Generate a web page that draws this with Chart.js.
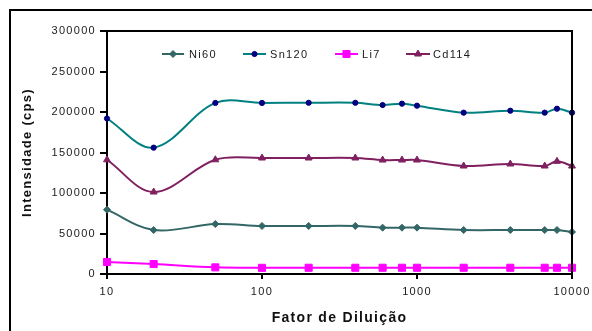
<!DOCTYPE html>
<html>
<head>
<meta charset="utf-8">
<script src="https://cdn.jsdelivr.net/npm/chart.js@4.4.1/dist/chart.umd.min.js"></script>
<style>
  html, body { margin: 0; padding: 0; background: #fff; overflow: hidden; }
  #wrap { position: relative; width: 592px; height: 331px; }
  #frame { position: absolute; left: 9px; top: 9px; width: 700px; height: 500px; border: 2px solid #000; pointer-events: none; }
  canvas { position: absolute; left: 0; top: 0; }
</style>
</head>
<body>
<div id="wrap">
  <div id="frame"></div>
  <canvas id="c" width="592" height="331"></canvas>
</div>
<script>
// ---- data ----
const dilution = [10, 20, 50, 100, 200, 400, 600, 800, 1000, 2000, 4000, 6667, 8000, 10000];
const ni60  = [79400, 54300, 61700, 59300, 59300, 59300, 57200, 57200, 57200, 54300, 54300, 54300, 54300, 51900];
const sn120 = [192000, 156000, 211200, 211200, 211400, 211400, 208600, 210300, 207800, 199200, 201600, 199200, 204100, 199200];
const li7   = [14800, 12300, 8200, 7600, 7700, 7700, 7700, 7700, 7700, 7700, 7700, 7700, 7700, 7700];
const cd114 = [141000, 101200, 141000, 143200, 143200, 143200, 140700, 140700, 140700, 133300, 135800, 133300, 139100, 133300];
const xTicks = [10, 100, 1000, 10000];
const yTicks = [0, 50000, 100000, 150000, 200000, 250000, 300000];
const seriesNames = ['Ni60', 'Sn120', 'Li7', 'Cd114'];

const FONT = 'Liberation Sans, Arial, sans-serif';
const SPACING = '1.3px';

function pts(vals) { return dilution.map((x, i) => ({ x: x, y: vals[i] })); }

function mkSet(label, vals, line, pointColor, style, radius) {
  return {
    label: label, data: pts(vals),
    borderColor: line, borderWidth: 2,
    pointStyle: style, pointRadius: radius, pointHoverRadius: radius,
    pointBackgroundColor: pointColor, pointBorderColor: pointColor, pointBorderWidth: 1,
    tension: 0.35, clip: false, fill: false
  };
}

function drawMarker(ctx, style, x, y, r, color) {
  ctx.save();
  ctx.fillStyle = color; ctx.strokeStyle = color; ctx.lineWidth = 1;
  ctx.beginPath();
  if (style === 'circle') {
    ctx.arc(x, y, r, 0, Math.PI * 2);
  } else if (style === 'rect') {
    const s = Math.SQRT1_2 * r;
    ctx.rect(x - s, y - s, 2 * s, 2 * s);
  } else if (style === 'rectRot') {
    ctx.moveTo(x, y - r); ctx.lineTo(x + r, y); ctx.lineTo(x, y + r); ctx.lineTo(x - r, y);
    ctx.closePath();
  } else if (style === 'triangle') {
    const w = r * Math.sqrt(3);
    ctx.moveTo(x, y - r); ctx.lineTo(x + w / 2, y + r / 2); ctx.lineTo(x - w / 2, y + r / 2);
    ctx.closePath();
  }
  ctx.fill(); ctx.stroke();
  ctx.restore();
}

const spacingPlugin = {
  id: 'spacing',
  beforeUpdate(chart) { chart.ctx.letterSpacing = SPACING; },
  beforeDraw(chart) { chart.ctx.letterSpacing = SPACING; }
};

const framePlugin = {
  id: 'plotFrame',
  afterDraw(chart) {
    const a = chart.chartArea, ctx = chart.ctx;
    ctx.save();
    ctx.strokeStyle = '#000'; ctx.lineWidth = 2;
    ctx.beginPath();
    ctx.moveTo(a.left, a.top); ctx.lineTo(a.right, a.top); ctx.lineTo(a.right, a.bottom);
    ctx.stroke();
    ctx.restore();
  }
};

// legend drawn inside the plot area
const legendPos = [[162, 184, 189], [243, 266, 270], [335, 358, 362], [406, 430, 433]];
const legendPlugin = {
  id: 'innerLegend',
  afterDraw(chart) {
    const ctx = chart.ctx, y = 54;
    chart.data.datasets.forEach((ds, i) => {
      const [x1, x2, tx] = legendPos[i];
      ctx.save();
      ctx.strokeStyle = ds.borderColor; ctx.lineWidth = 2;
      ctx.beginPath(); ctx.moveTo(x1, y); ctx.lineTo(x2, y); ctx.stroke();
      drawMarker(ctx, ds.pointStyle, (x1 + x2) / 2, y, ds.pointRadius, ds.pointBackgroundColor);
      ctx.letterSpacing = SPACING;
      ctx.fillStyle = '#1a1a1a';
      ctx.font = '11px ' + FONT;
      ctx.textBaseline = 'middle'; ctx.textAlign = 'left';
      ctx.fillText(ds.label, tx, y + 0.5);
      ctx.restore();
    });
  }
};

new Chart(document.getElementById('c'), {
  type: 'line',
  data: {
    datasets: [
      mkSet(seriesNames[0], ni60, '#336666', '#336666', 'rectRot', 3.5),
      mkSet(seriesNames[1], sn120, '#008080', '#000080', 'circle', 2.6),
      mkSet(seriesNames[2], li7, '#ff00ff', '#ff00ff', 'rect', 5),
      mkSet(seriesNames[3], cd114, '#802060', '#802060', 'triangle', 4)
    ]
  },
  options: {
    responsive: false,
    devicePixelRatio: 1,
    animation: false,
    layout: { padding: { left: 0, right: 20, top: 31, bottom: 0 } },
    plugins: { legend: { display: false }, tooltip: { enabled: false } },
    scales: {
      x: {
        type: 'logarithmic', min: 10, max: 10000,
        afterBuildTicks: s => { s.ticks = xTicks.map(v => ({ value: v })); },
        afterFit: s => { s.height = 57; s.paddingLeft = 0; s.paddingRight = 0; },
        ticks: { callback: v => String(v), color: '#1a1a1a', font: { family: FONT, size: 11 }, padding: 6, maxRotation: 0, autoSkip: false },
        grid: { drawOnChartArea: false, drawTicks: true, tickLength: 5, color: '#000', lineWidth: 2 },
        border: { display: true, color: '#000', width: 2 },
        title: { display: true, text: 'Fator de Diluição', color: '#111', font: { family: FONT, size: 14, weight: 'bold' }, padding: { top: 0, bottom: 4 } }
      },
      y: {
        min: 0, max: 300000,
        afterBuildTicks: s => { s.ticks = yTicks.map(v => ({ value: v })); },
        afterFit: s => { s.width = 107; s.paddingTop = 0; s.paddingBottom = 0; },
        ticks: { callback: v => String(v), color: '#1a1a1a', font: { family: FONT, size: 11 }, padding: 4 },
        grid: { drawOnChartArea: false, drawTicks: true, tickLength: 7, color: '#000', lineWidth: 2 },
        border: { display: true, color: '#000', width: 2 },
        title: { display: true, text: 'Intensidade (cps)', color: '#111', font: { family: FONT, size: 13, weight: 'bold' }, padding: { top: 20, bottom: 0 } }
      }
    }
  },
  plugins: [spacingPlugin, framePlugin, legendPlugin]
});
</script>
</body>
</html>
